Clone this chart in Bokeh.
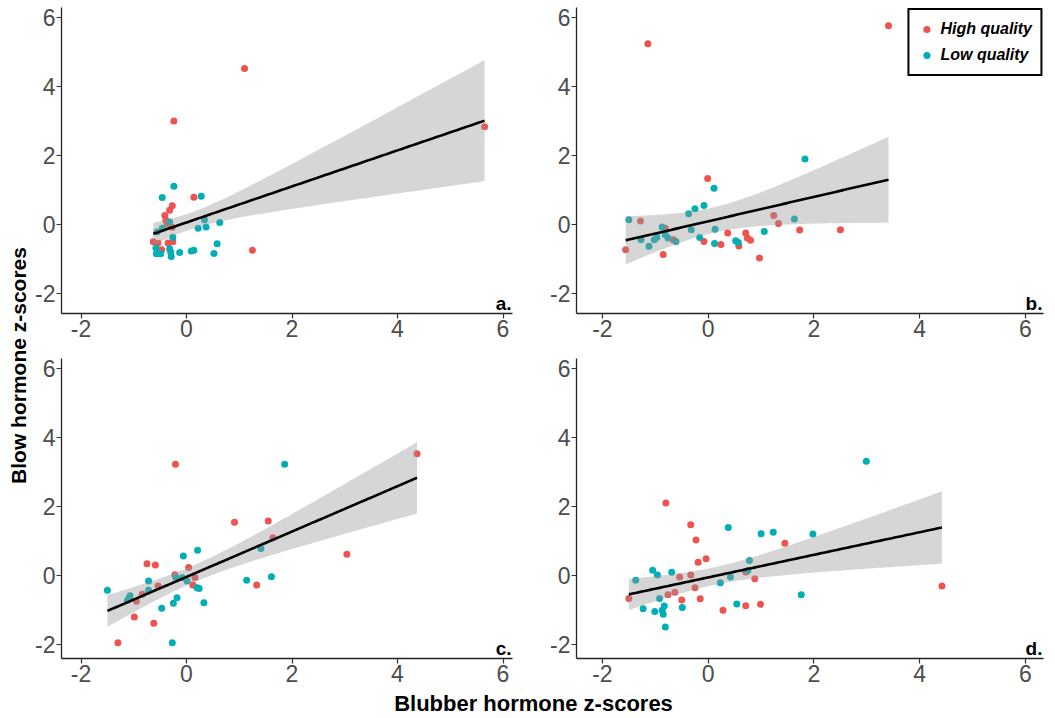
import numpy as np
from bokeh.plotting import figure
from bokeh.layouts import row, column
from bokeh.models import Range1d, Label, Legend, LegendItem, FixedTicker
from bokeh.embed import file_html
from bokeh.resources import INLINE

# ---------------- data ----------------
a_high_x = [1.10, -0.24, 5.65, 0.14, 1.25, -0.27, -0.32, -0.41, -0.39, -0.37, -0.27, -0.63, -0.54, -0.47, -0.35, -0.26]
a_high_y = [4.53, 3.01, 2.84, 0.80, -0.74, 0.55, 0.42, 0.27, 0.13, 0.03, -0.07, -0.49, -0.53, -0.72, -0.53, -0.49]
a_low_x = [-0.24, -0.46, 0.28, 0.34, 0.63, 0.37, 0.22, -0.46, -0.32, -0.56, -0.26, 0.58, -0.58, -0.32, -0.30, -0.29, -0.57, -0.49, -0.13, 0.09, 0.14, 0.52]
a_low_y = [1.12, 0.79, 0.83, 0.15, 0.07, -0.06, -0.10, -0.10, 0.08, -0.21, -0.36, -0.55, -0.67, -0.69, -0.79, -0.92, -0.84, -0.84, -0.80, -0.76, -0.74, -0.83]

b_high_x = [-1.14, 3.41, -0.01, -1.28, -1.56, -0.85, -0.81, -0.66, -0.08, 0.24, 0.37, 0.58, 0.71, 0.74, 0.80, 0.97, 1.24, 1.33, 1.73, 2.50]
b_high_y = [5.25, 5.77, 1.34, 0.11, -0.72, -0.86, -0.10, -0.43, -0.48, -0.57, -0.24, -0.61, -0.24, -0.38, -0.45, -0.96, 0.27, 0.04, -0.15, -0.14]
b_low_x = [-1.50, -1.27, -1.12, -1.02, -0.97, -0.87, -0.81, -0.76, -0.61, -0.37, -0.25, -0.32, -0.16, -0.08, 0.11, 0.13, 0.12, 0.52, 0.57, 1.06, 1.63, 1.83]
b_low_y = [0.15, -0.43, -0.62, -0.43, -0.36, -0.06, -0.29, -0.38, -0.48, 0.32, 0.47, -0.14, -0.37, 0.56, 1.06, -0.13, -0.54, -0.46, -0.51, -0.19, 0.17, 1.91]

c_high_x = [-0.21, 4.37, 0.91, 1.55, 1.64, 3.04, -0.75, -0.59, 0.04, -0.22, 0.16, 0.12, -0.54, 1.33, -0.84, -0.95, -0.99, -0.62, -1.30]
c_high_y = [3.22, 3.53, 1.54, 1.58, 1.09, 0.61, 0.34, 0.30, 0.23, 0.02, -0.06, -0.28, -0.31, -0.28, -0.55, -0.75, -1.21, -1.39, -1.95]
c_low_x = [1.86, 1.41, 0.21, -0.06, -0.72, -0.72, -0.20, -0.08, 0.01, 0.20, 0.24, 1.14, 1.61, -1.50, -1.07, -1.09, -1.12, -0.18, -0.25, 0.33, -0.47, -0.27]
c_low_y = [3.22, 0.78, 0.73, 0.56, -0.16, -0.43, -0.06, -0.06, -0.16, -0.36, -0.38, -0.14, -0.04, -0.43, -0.59, -0.67, -0.72, -0.65, -0.81, -0.79, -0.95, -1.95]

d_high_x = [-0.80, -0.33, -0.23, -0.19, -0.04, 1.45, 4.42, -1.50, -0.76, -0.63, -0.54, -0.33, -0.25, -0.50, -0.15, 0.28, 0.71, 0.88, 0.71, 0.99]
d_high_y = [2.10, 1.47, 1.03, 0.38, 0.48, 0.93, -0.31, -0.67, -0.56, -0.49, -0.05, 0.01, -0.36, -0.71, -0.68, -1.01, 0.10, -0.10, -0.88, -0.84]
d_low_x = [2.99, 0.38, 1.00, 1.23, 1.98, 0.78, 0.75, 0.42, 0.23, -1.05, -0.96, -0.69, -1.37, -0.92, -1.23, -1.01, -0.87, -0.83, -0.85, -0.81, -0.49, 0.54, 1.76]
d_low_y = [3.31, 1.39, 1.21, 1.25, 1.20, 0.43, 0.14, -0.05, -0.21, 0.15, 0.01, 0.09, -0.14, -0.67, -0.97, -1.05, -1.01, -0.89, -1.13, -1.50, -0.93, -0.83, -0.56]

# fitted line value at the smallest / largest x, and CI half-width there
fit_a = [-0.26, 3.02]; hw_a = [0.32, 1.755]
fit_b = [-0.45, 1.31]; hw_b = [0.70, 1.245]
fit_c = [-1.03, 2.83]; hw_c = [0.46, 1.035]
fit_d = [-0.55, 1.39]; hw_d = [0.455, 1.05]

x_ticks = [-2, 0, 2, 4, 6]
y_ticks = [-2, 0, 2, 4, 6]
tick_labels = {-2: "-2", 0: "0", 2: "2", 4: "4", 6: "6"}
series_labels = ["High quality", "Low quality"]
panel_letters = ["a.", "b.", "c.", "d."]
x_title = "Blubber hormone z-scores"
y_title = "Blow hormone z-scores"

RED = "#EF5350"
TEAL = "#00AEB6"
FONT = "Liberation Sans"


def make_panel(hx, hy, lx, ly, fit, hw, letter, xr, yr, width, height, bl, br, bt, bb, legend=False):
    p = figure(width=width, height=height, x_range=Range1d(*xr), y_range=Range1d(*yr),
               output_backend="svg", toolbar_location=None,
               min_border_left=bl, min_border_right=br, min_border_top=bt, min_border_bottom=bb)
    p.outline_line_color = None
    p.xgrid.visible = False
    p.ygrid.visible = False
    p.background_fill_color = "white"
    p.border_fill_color = "white"
    for ax, tks in ((p.xaxis[0], x_ticks), (p.yaxis[0], y_ticks)):
        ax.ticker = FixedTicker(ticks=tks)
        ax.major_label_overrides = tick_labels
        ax.axis_line_color = "#222222"
        ax.axis_line_width = 1.3
        ax.major_tick_line_color = "#333333"
        ax.major_tick_line_width = 1.2
        ax.major_tick_out = 5
        ax.major_tick_in = 0
        ax.minor_tick_line_color = None
        ax.major_label_text_font = FONT
        ax.major_label_text_font_size = "23px"
        ax.major_label_text_color = "#4D4D4D"
        ax.major_label_standoff = 1

    rh = p.scatter(hx, hy, size=7, fill_color=RED, line_color=None)
    rl = p.scatter(lx, ly, size=7, fill_color=TEAL, line_color=None)

    allx = np.array(hx + lx)
    x0, x1 = allx.min(), allx.max()
    xc = allx.mean()
    d0, d1 = (x0 - xc) ** 2, (x1 - xc) ** 2
    k2 = (hw[1] ** 2 - hw[0] ** 2) / (d1 - d0)
    h02 = max(hw[0] ** 2 - k2 * d0, 0.005)
    xs = np.linspace(x0, x1, 120)
    ys = fit[0] + (fit[1] - fit[0]) * (xs - x0) / (x1 - x0)
    half = np.sqrt(h02 + k2 * (xs - xc) ** 2)
    p.varea(x=xs, y1=ys - half, y2=ys + half, fill_color="#999999", fill_alpha=0.4)
    p.line(xs, ys, line_color="black", line_width=2.6)

    p.add_layout(Label(x=xr[1], y=yr[0] + 0.28, x_offset=-1, text=letter, text_align="right",
                       text_baseline="alphabetic", text_font=FONT, text_font_style="bold",
                       text_font_size="19px", text_color="black"))

    if legend:
        lg = Legend(items=[LegendItem(label=series_labels[0], renderers=[rh]),
                           LegendItem(label=series_labels[1], renderers=[rl])],
                    location="top_right",
                    label_text_font=FONT, label_text_font_style="bold italic",
                    label_text_font_size="16px", label_text_color="black",
                    border_line_color="black", border_line_width=2, border_line_alpha=1,
                    background_fill_color="white", background_fill_alpha=1,
                    glyph_width=18, glyph_height=22, label_standoff=5,
                    spacing=4, padding=8, margin=1)
        p.add_layout(lg)
    return p


# frame geometry (page origin at 0,0)
xr_left = (-2.37, 6.18)     # frame x 61..512
xr_right = (-2.49, 6.34)    # frame x 576..1043
yr_top = (-2.57, 6.30)      # frame y 7..313
yr_bot = (-2.41, 6.29)      # frame y 358..658

pa = make_panel(a_high_x, a_high_y, a_low_x, a_low_y, fit_a, hw_a, panel_letters[0],
                xr_left, yr_top, 502, 345, 31, 20, 7, 32)
pb = make_panel(b_high_x, b_high_y, b_low_x, b_low_y, fit_b, hw_b, panel_letters[1],
                xr_right, yr_top, 522, 345, 44, 11, 7, 32, legend=True)
pc = make_panel(c_high_x, c_high_y, c_low_x, c_low_y, fit_c, hw_c, panel_letters[2],
                xr_left, yr_bot, 502, 343, 31, 20, 13, 30)
pd = make_panel(d_high_x, d_high_y, d_low_x, d_low_y, fit_d, hw_d, panel_letters[3],
                xr_right, yr_bot, 522, 343, 44, 11, 13, 30)


def blank(w, h):
    f = figure(width=w, height=h, x_range=Range1d(0, w), y_range=Range1d(0, h),
               output_backend="svg", toolbar_location=None,
               min_border_left=0, min_border_right=0, min_border_top=0, min_border_bottom=0)
    f.axis.visible = False
    f.xgrid.visible = False
    f.ygrid.visible = False
    f.outline_line_color = None
    return f


yt = blank(30, 688)
yt.add_layout(Label(x=18, y=688 - 365, text=y_title, angle=np.pi / 2, text_align="center",
                    text_baseline="middle", text_font=FONT, text_font_style="bold",
                    text_font_size="21px", text_color="black"))

xt = blank(1054, 29)
xt.add_layout(Label(x=533, y=14, text=x_title, text_align="center", text_baseline="middle",
                    text_font=FONT, text_font_style="bold", text_font_size="22px", text_color="black"))

layout = column(row(yt, column(row(pa, pb), row(pc, pd))), xt)

open("out.html", "w").write(file_html(layout, INLINE))
